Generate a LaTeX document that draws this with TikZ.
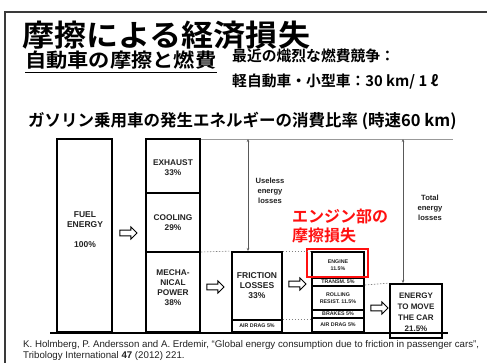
\documentclass[tikz,border=0pt]{standalone}
\usepackage{fontspec}
\setmainfont{Liberation Sans}
\newfontfamily\jpb{Noto Sans CJK JP Bold}
\newfontfamily\jpt{Noto Sans CJK JP Bold}[FakeStretch=1.07]
\newfontfamily\jps{Noto Sans CJK JP Bold}[FakeStretch=1.09]
\usetikzlibrary{shapes.arrows,arrows.meta}
\definecolor{txtcol}{HTML}{222222}
\definecolor{framecol}{HTML}{3A3A3A}
\definecolor{redtxt}{HTML}{FF1010}
\tikzset{
  box/.style={draw=black, line width=1.8pt, inner sep=0pt},
  sep/.style={draw=black, line width=1.4pt},
  lbl/.style={font=\bfseries\fontsize{8.3}{10}\selectfont, text=txtcol, align=center, inner sep=0pt},
  tiny/.style={font=\bfseries\fontsize{5.3}{7}\selectfont, text=txtcol, align=center, inner sep=0pt},
  dotline/.style={draw=gray, line width=0.6pt, dash pattern=on 1.5pt off 1.5pt},
  hollow/.style={single arrow, draw=black, line width=1pt, minimum height=17pt, minimum width=12pt, single arrow head extend=3pt, inner sep=2.4pt},
  varrow/.style={draw=gray!70!black, line width=0.5pt, {Stealth[length=3pt,width=2.5pt]}-{Stealth[length=3pt,width=2.5pt]}},
  jp/.style={inner sep=0pt, anchor=base west, text=black}
}
\begin{document}
\begin{tikzpicture}[x=1pt,y=-1pt]
\fill[white] (0,0) rectangle (487,363);
\useasboundingbox (0,0) rectangle (487,363);
% frame
\path[fill=framecol] (3.5,11) rectangle (5.5,363);
\path[fill=framecol] (3.5,11) rectangle (487,13);
% headings
\node[jp, font=\jpt\fontsize{30}{36}\selectfont] (title) at (22,47) {摩擦による経済損失};
\node[jp, font=\jps\fontsize{19.5}{24}\selectfont] (sub) at (25,68) {自動車の摩擦と燃費};
\coordinate (ul1) at (25,72.5);
\coordinate (ul2) at (217,72.5);
\draw[line width=1.4pt] (ul1) -- (ul2);
\node[jp, font=\jpb\fontsize{14.8}{18}\selectfont] (comp1) at (232,62) {最近の熾烈な燃費競争：};
\node[jp, font=\jpb\fontsize{14.8}{18}\selectfont] (comp2) at (232,87) {軽自動車・小型車：30 km/ 1 ℓ};
\node[jp, font=\jpb\fontsize{16.5}{19}\selectfont] (head) at (28,127) {ガソリン乗用車の発生エネルギーの消費比率 (時速60 km)};
% top gray line and base line
\draw[gray!80, line width=0.9pt] (146,139) -- (453,139);
\draw[black, line width=1.8pt] (50,333) -- (448,333);
% boxes
\node[box, minimum width=55pt, minimum height=193pt] (fuel) at (84.5,235.5) {};
\node[box, minimum width=54pt, minimum height=193pt] (b2) at (173,235.5) {};
\draw[sep] (146,193) -- (200,193);
\draw[sep] (146,252) -- (200,252);
\node[box, minimum width=50pt, minimum height=80pt] (b3) at (257,292) {};
\draw[sep] (232,320) -- (282,320);
\node[box, minimum width=52pt, minimum height=80pt] (b4) at (338,292) {};
\draw[sep, line width=1.2pt] (312,278) -- (364,278);
\draw[sep, line width=1.2pt] (312,286) -- (364,286);
\draw[sep, line width=1.2pt] (312,310) -- (364,310);
\draw[sep, line width=1.2pt] (312,318) -- (364,318);
\node[box, minimum width=52pt, minimum height=54pt] (b5) at (416,311) {};
% red highlight
\node[draw=redtxt, line width=1.6pt, minimum width=61pt, minimum height=28pt, inner sep=0pt] (redbox) at (337.5,263) {};
% dotted guides
\draw[dotline] (b2.east |- 0,252) -- (b3.north west);
\draw[dotline] (b3.north east) -- (b4.north west);
\draw[dotline] (b4.east |- 0,285) -- (b5.north west);
\draw[dotline] (b3.east |- 0,319) -- (b4.west |- 0,319);
% vertical arrows
\coordinate (u1) at (248,139);
\coordinate (u2) at (248,251);
\coordinate (t1) at (403,139);
\coordinate (t2) at (403,283);
\draw[varrow] (u1) -- (u2);
\draw[varrow] (t1) -- (t2);
% hollow arrows
\node[hollow] (a1) at (127,233) {};
\node[hollow] (a2) at (214,287) {};
\node[hollow] (a3) at (296,284) {};
\node[hollow] (a4) at (378,308) {};
% labels
\node[lbl, font=\bfseries\fontsize{8.5}{9.5}\selectfont] (fueltxt) at (85,219.5) {FUEL\\ENERGY};
\node[lbl, font=\bfseries\fontsize{8.5}{9.5}\selectfont] (fuelpc) at (85,245) {100\%};
\node[lbl] (exh) at (173,168) {EXHAUST\\33\%};
\node[lbl] (cool) at (173,222.5) {COOLING\\29\%};
\node[lbl, font=\bfseries\fontsize{8.3}{10}\selectfont] (mech) at (173,288) {MECHA-\\NICAL\\POWER\\38\%};
\node[lbl, font=\bfseries\fontsize{8.5}{9.7}\selectfont] (fric) at (257,285.5) {FRICTION\\LOSSES\\33\%};
\node[tiny] (ad1) at (257,326) {AIR DRAG 5\%};
\node[tiny] (eng) at (338,265.5) {ENGINE\\11.5\%};
\node[tiny] (trans) at (338,282) {TRANSM. 5\%};
\node[tiny] (roll) at (338,298) {ROLLING\\RESIST. 11.5\%};
\node[tiny] (brk) at (338,314) {BRAKES 5\%};
\node[tiny] (ad2) at (338,325) {AIR DRAG 5\%};
\node[lbl, font=\bfseries\fontsize{8}{11}\selectfont] (move) at (416,312.5) {ENERGY\\TO MOVE\\THE CAR\\21.5\%};
\node[lbl, font=\bfseries\fontsize{7.6}{10}\selectfont] (useless) at (270,191) {Useless\\energy\\losses};
\node[lbl, font=\bfseries\fontsize{7.6}{10}\selectfont] (total) at (430,208) {Total\\energy\\losses};
\node[jp, font=\jpb\fontsize{16}{19}\selectfont, text=redtxt] (red1) at (292,223) {エンジン部の};
\node[jp, font=\jpb\fontsize{16}{19}\selectfont, text=redtxt] (red2) at (292,242) {摩擦損失};
% citation
\node[anchor=west, inner sep=0pt, text=txtcol, font=\fontsize{9.7}{11}\selectfont] (cit1) at (23,345) {K. Holmberg, P. Andersson and A. Erdemir, “Global energy consumption due to friction in passenger cars”,};
\node[anchor=west, inner sep=0pt, text=txtcol, font=\fontsize{9.7}{11}\selectfont] (cit2) at (23,356) {Tribology International \textbf{47} (2012) 221.};
\end{tikzpicture}
\end{document}
